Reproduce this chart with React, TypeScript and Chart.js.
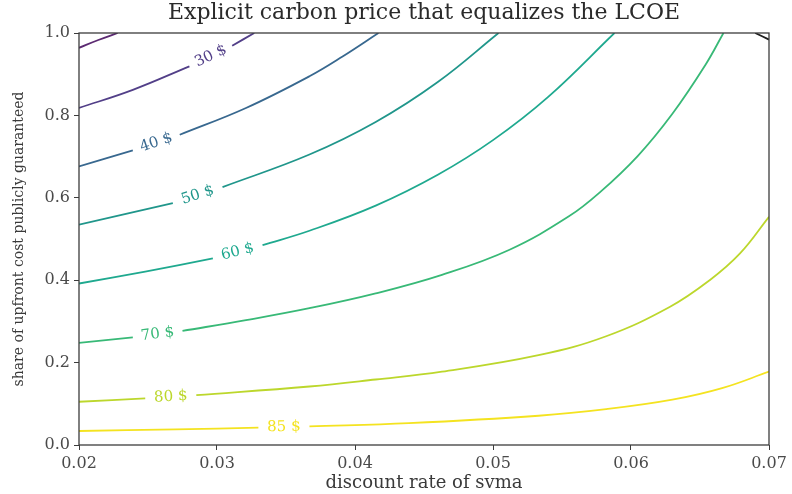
import React, { useEffect, useRef } from "react";
import { Chart, registerables } from "chart.js";

Chart.register(...registerables);

const titleText = "Explicit carbon price that equalizes the LCOE";
const xAxisLabel = "discount rate of svma";
const yAxisLabel = "share of upfront cost publicly guaranteed";

const xTicks = [0.02, 0.03, 0.04, 0.05, 0.06, 0.07];
const yTicks = [0.0, 0.2, 0.4, 0.6, 0.8, 1.0];

// contour lines (null = gap where the inline label sits)
const c20X = [0.02, 0.0214, 0.0228];
const c20Y = [0.964, 0.983, 1.0];

const c30X = [0.02, 0.0239, 0.028, null, 0.0311, 0.0327];
const c30Y = [0.818, 0.862, 0.919, null, 0.969, 1.0];

const c40X = [0.02, 0.0239, null, 0.0273, 0.0321, 0.0367, 0.0391, 0.0417];
const c40Y = [0.676, 0.715, null, 0.753, 0.818, 0.895, 0.943, 1.0];

const c50X = [0.02, 0.0268, null, 0.0304, 0.0367, 0.0415, 0.046, 0.0504];
const c50Y = [0.535, 0.587, null, 0.626, 0.705, 0.784, 0.881, 1.0];

const c60X = [0.02, 0.0248, 0.0297, null, 0.0333, 0.0367, 0.0415, 0.046, 0.05, 0.054, 0.0588];
const c60Y = [0.392, 0.421, 0.453, null, 0.485, 0.52, 0.581, 0.656, 0.74, 0.845, 1.0];

const c70X = [0.02, 0.0239, null, 0.0275, 0.0321, 0.0367, 0.0415, 0.0463, 0.0512, 0.0555, 0.0578, 0.0605, 0.063, 0.0654, 0.0667];
const c70Y = [0.248, 0.261, null, 0.277, 0.303, 0.332, 0.368, 0.413, 0.474, 0.555, 0.615, 0.702, 0.804, 0.923, 1.0];

const c80X = [0.02, 0.0248, null, 0.0285, 0.0367, 0.0415, 0.0463, 0.0533, 0.0582, 0.0628, 0.0657, 0.0679, 0.07];
const c80Y = [0.105, 0.113, null, 0.121, 0.142, 0.159, 0.178, 0.218, 0.264, 0.335, 0.4, 0.465, 0.554];

const c85X = [0.02, 0.027, 0.033, null, 0.0367, 0.0439, 0.0533, 0.0582, 0.063, 0.0666, 0.07];
const c85Y = [0.034, 0.038, 0.042, null, 0.045, 0.053, 0.071, 0.087, 0.11, 0.138, 0.178];

const cTopX = [0.069, 0.07];
const cTopY = [1.0, 0.984];

const contourXs = [c20X, c30X, c40X, c50X, c60X, c70X, c80X, c85X, cTopX];
const contourYs = [c20Y, c30Y, c40Y, c50Y, c60Y, c70Y, c80Y, c85Y, cTopY];
const contourLabels = ["", "30 $", "40 $", "50 $", "60 $", "70 $", "80 $", "85 $", ""];
const contourColors = [
  "#5c2a72",
  "#523f88",
  "#38688f",
  "#20968b",
  "#1fa98f",
  "#38b977",
  "#bcd72c",
  "#f4e320",
  "#1e1e1e",
];

const SERIF = '"DejaVu Serif", "Liberation Serif", serif';

function toPoints(xs: (number | null)[], ys: (number | null)[]) {
  return xs.map((x, i) => {
    if (x === null || ys[i] === null) {
      const px = ((xs[i - 1] as number) + (xs[i + 1] as number)) / 2;
      return { x: px, y: null };
    }
    return { x, y: ys[i] };
  });
}

const contourLabelPlugin = {
  id: "contourLabels",
  afterDatasetsDraw(chart: any) {
    const ctx = chart.ctx;
    chart.data.datasets.forEach((ds: any, di: number) => {
      const text = ds.contourLabel;
      if (!text) return;
      const gap = ds.data.findIndex((p: any) => p.y === null);
      if (gap < 1) return;
      const meta = chart.getDatasetMeta(di);
      const a = meta.data[gap - 1];
      const b = meta.data[gap + 1];
      const cx = (a.x + b.x) / 2;
      const cy = (a.y + b.y) / 2;
      const ang = Math.atan2(b.y - a.y, b.x - a.x);
      ctx.save();
      ctx.translate(cx, cy);
      ctx.rotate(ang);
      ctx.font = `15px ${SERIF}`;
      ctx.fillStyle = ds.borderColor;
      ctx.textAlign = "center";
      ctx.textBaseline = "middle";
      ctx.fillText(text, 0, 0);
      ctx.restore();
    });
  },
};

const framePlugin = {
  id: "frame",
  afterDatasetsDraw(chart: any) {
    const { ctx, chartArea } = chart;
    ctx.save();
    ctx.strokeStyle = "#3c3c3c";
    ctx.lineWidth = 1.3;
    ctx.strokeRect(chartArea.left, chartArea.top, chartArea.right - chartArea.left, chartArea.bottom - chartArea.top);
    ctx.restore();
  },
};

const axesTitlePlugin = {
  id: "axesTitle",
  afterDraw(chart: any) {
    const { ctx, chartArea } = chart;
    ctx.save();
    ctx.font = `22px ${SERIF}`;
    ctx.fillStyle = "#2a2a2a";
    ctx.textAlign = "center";
    ctx.textBaseline = "middle";
    ctx.fillText(titleText, (chartArea.left + chartArea.right) / 2, chartArea.top - 20);
    ctx.restore();
  },
};

export default function App() {
  const ref = useRef<HTMLCanvasElement | null>(null);

  useEffect(() => {
    if (!ref.current) return;
    const datasets = contourXs.map((xs, i) => ({
      data: toPoints(xs, contourYs[i]),
      borderColor: contourColors[i],
      backgroundColor: contourColors[i],
      borderWidth: 1.8,
      pointRadius: 0,
      fill: false,
      spanGaps: false,
      tension: 0.4,
      cubicInterpolationMode: "default",
      contourLabel: contourLabels[i],
    }));
    const chart = new Chart(ref.current, {
      type: "line",
      data: { datasets: datasets as any },
      options: {
        animation: false,
        responsive: true,
        maintainAspectRatio: false,
        layout: { padding: { left: 0, right: 23, top: 33, bottom: 0 } },
        plugins: {
          legend: { display: false },
          tooltip: { enabled: false },
          title: { display: false },
        },
        scales: {
          x: {
            type: "linear",
            min: 0.02,
            max: 0.07,
            afterBuildTicks: (s: any) => {
              s.ticks = xTicks.map((v) => ({ value: v }));
            },
            afterFit: (s: any) => {
              s.height = 49;
            },
            grid: { drawOnChartArea: false, drawTicks: true, tickLength: 5, tickColor: "#3c3c3c" },
            border: { display: false },
            ticks: {
              color: "#4a4a4a",
              font: { family: SERIF, size: 16 },
              padding: 4,
              maxRotation: 0,
              callback: (v: any) => Number(v).toFixed(2),
            },
            title: {
              display: true,
              text: xAxisLabel,
              color: "#3a3a3a",
              font: { family: SERIF, size: 18 },
              padding: { top: 0, bottom: 0 },
            },
          },
          y: {
            type: "linear",
            min: 0,
            max: 1,
            afterBuildTicks: (s: any) => {
              s.ticks = yTicks.map((v) => ({ value: v }));
            },
            afterFit: (s: any) => {
              s.width = 79;
            },
            grid: { drawOnChartArea: false, drawTicks: true, tickLength: 5, tickColor: "#3c3c3c" },
            border: { display: false },
            ticks: {
              color: "#4a4a4a",
              font: { family: SERIF, size: 16 },
              padding: 4,
              callback: (v: any) => Number(v).toFixed(1),
            },
            title: {
              display: true,
              text: yAxisLabel,
              color: "#3a3a3a",
              font: { family: SERIF, size: 14 },
              padding: { top: 11, bottom: 0 },
            },
          },
        },
      },
      plugins: [contourLabelPlugin, framePlugin, axesTitlePlugin],
    });
    return () => chart.destroy();
  }, []);

  return (
    <div style={{ position: "absolute", left: 0, top: 0, width: 792, height: 494, background: "#fff" }}>
      <canvas ref={ref} />
    </div>
  );
}
